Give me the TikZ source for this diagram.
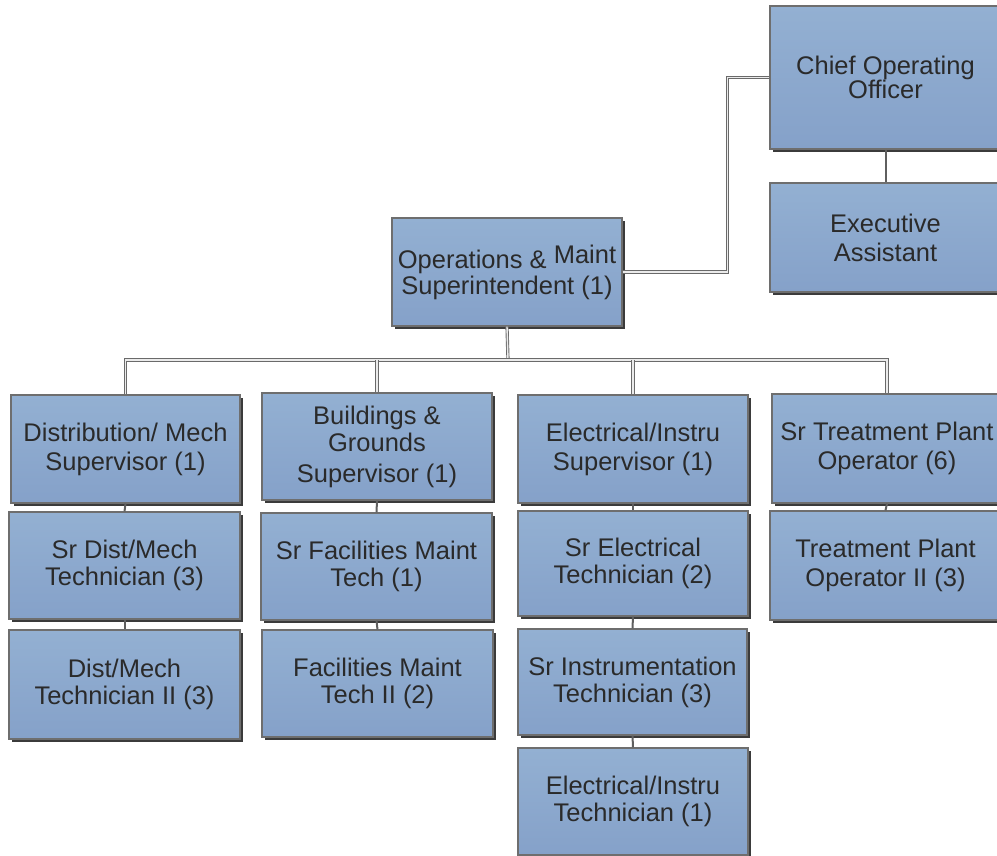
\documentclass[tikz,border=0pt]{standalone}
\usepackage{fontspec}
\setmainfont{Liberation Sans}
\usetikzlibrary{shadows}
\definecolor{boxtop}{HTML}{93B0D2}
\definecolor{boxbot}{HTML}{85A1C9}
\definecolor{boxedge}{HTML}{6E6E6E}
\definecolor{txt}{HTML}{2A2A2A}
\definecolor{conn}{HTML}{6A6A6A}
\tikzset{
  orgbox/.style={rectangle, draw=boxedge, line width=1.1pt, top color=boxtop, bottom color=boxbot,
    drop shadow={shadow xshift=3pt, shadow yshift=-3pt, fill=black!85, opacity=0.9},
    align=center, text=txt, inner sep=0pt, font=\fontsize{25.5}{29}\selectfont},
  dbl/.style={draw=conn, line width=0.9pt, double=white!92!black, double distance=1.4pt},
  single/.style={draw=conn!90!black, line width=2pt},
}
\begin{document}
\begin{tikzpicture}[x=1pt,y=-1pt]
\useasboundingbox (0,0) rectangle (997,856);
\clip (0,0) rectangle (997,856);
% top
\node[orgbox, minimum width=231, minimum height=143] (coo) at (885.5,77.5) {Chief Operating\\[-5pt]Officer};
\node[orgbox, minimum width=231, minimum height=109] (ea) at (885.5,237.5) {Executive\\Assistant};
\node[orgbox, minimum width=230, minimum height=108] (ops) at (507,272) {Operations \& \raisebox{5pt}{Maint}\\[-3pt]Superintendent (1)};
% row 1
\node[orgbox, minimum width=229, minimum height=108] (dist) at (125.5,449) {Distribution/ Mech\\Supervisor (1)};
\node[orgbox, minimum width=230, minimum height=107] (bldg) at (377,446.5) {Buildings \&\\[-2pt]Grounds\\[2pt]Supervisor (1)};
\node[orgbox, minimum width=230, minimum height=108] (elec) at (633,449) {Electrical/Instru\\Supervisor (1)};
\node[orgbox, minimum width=230, minimum height=109] (trt) at (887,448.5) {Sr Treatment Plant\\Operator (6)};
% row 2
\node[orgbox, minimum width=231, minimum height=107] (sdm) at (124.5,565.5) {Sr Dist/Mech\\[-2pt]Technician (3)};
\node[orgbox, minimum width=231, minimum height=107] (sfm) at (376.5,566.5) {Sr Facilities Maint\\[-2pt]Tech (1)};
\node[orgbox, minimum width=230, minimum height=105] (sel) at (633,563.5) {Sr Electrical\\[-2pt]Technician (2)};
\node[orgbox, minimum width=231, minimum height=109] (tpo) at (885.5,565.5) {Treatment Plant\\Operator II (3)};
% row 3
\node[orgbox, minimum width=231, minimum height=109] (dm2) at (124.5,684.5) {Dist/Mech\\[-2pt]Technician II (3)};
\node[orgbox, minimum width=231, minimum height=107] (fm2) at (377.5,683.5) {Facilities Maint\\[-2pt]Tech II (2)};
\node[orgbox, minimum width=229, minimum height=106] (sit) at (632.5,682) {Sr Instrumentation\\[-2pt]Technician (3)};
% row 4
\node[orgbox, minimum width=230, minimum height=107] (eit) at (633,801.5) {Electrical/Instru\\[-2pt]Technician (1)};
% connectors
\coordinate (bus) at (508,360);
\draw[dbl] (ops.east) -- ++(105,0) |- (coo.west);
\draw[single] (coo.south) -- (ea.north);
\draw[dbl] (ops.south) -- (bus);
\draw[dbl] (dist.north) -- (dist.north |- bus) -- (trt.north |- bus) -- (trt.north);
\draw[dbl] (bldg.north) -- (bldg.north |- bus);
\draw[dbl] (elec.north) -- (elec.north |- bus);
\draw[single] (dist.south) -- (sdm.north);
\draw[single] (sdm.south) -- (dm2.north);
\draw[single] (bldg.south) -- (sfm.north);
\draw[single] (sfm.south) -- (fm2.north);
\draw[single] (elec.south) -- (sel.north);
\draw[single] (sel.south) -- (sit.north);
\draw[single] (sit.south) -- (eit.north);
\draw[single] (trt.south) -- (tpo.north);
\end{tikzpicture}
\end{document}
